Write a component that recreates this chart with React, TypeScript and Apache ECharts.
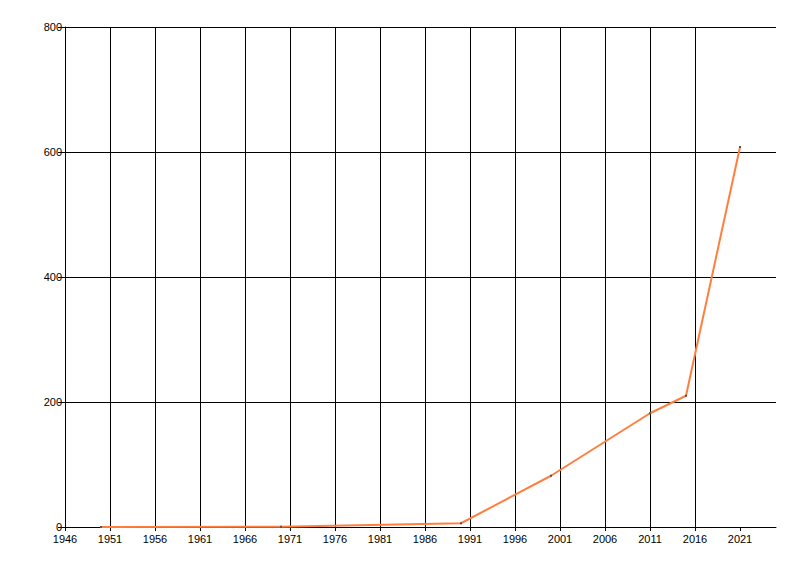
import { useRef, useEffect } from 'react';
import * as echarts from 'echarts';

// values
const years = [1950, 1970, 1990, 2000, 2011, 2015, 2021];
const values = [0, 0.5, 6, 82, 182, 210, 608];
const xTicks = [1946, 1951, 1956, 1961, 1966, 1971, 1976, 1981, 1986, 1991, 1996, 2001, 2006, 2011, 2016, 2021];
const yTicks = [0, 200, 400, 600, 800];

export default function App() {
  const chartRef = useRef<HTMLDivElement>(null);

  useEffect(() => {
    if (!chartRef.current) return;
    const chart = echarts.init(chartRef.current, undefined, { renderer: 'svg' });

    const labelStyle = {
      color: '#000',
      fontFamily: 'Liberation Sans',
      fontSize: 11,
    };

    chart.setOption({
      animation: false,
      grid: { left: 65, right: 24, top: 27, bottom: 49 },
      xAxis: {
        type: 'value',
        min: xTicks[0],
        max: 2025,
        interval: 5,
        axisLine: { show: true, onZero: false, lineStyle: { color: '#000', width: 1 } },
        axisTick: { show: true, length: 4, lineStyle: { color: '#000' }, customValues: xTicks },
        axisLabel: {
          ...labelStyle,
          margin: 6,
          customValues: xTicks,
          formatter: (v: number) => String(v),
        },
        splitLine: { show: true, showMaxLine: false, lineStyle: { color: '#000', width: 1 } },
      },
      yAxis: {
        type: 'value',
        min: yTicks[0],
        max: yTicks[yTicks.length - 1],
        interval: 200,
        axisLine: { show: true, lineStyle: { color: '#000', width: 1 } },
        axisTick: { show: true, length: 7, lineStyle: { color: '#000' } },
        axisLabel: { ...labelStyle, margin: 3 },
        splitLine: { show: true, lineStyle: { color: '#000', width: 1 } },
      },
      series: [
        {
          type: 'line',
          data: years.map((y, i) => [y, values[i]]),
          showSymbol: true,
          symbol: 'rect',
          symbolSize: 2,
          itemStyle: { color: '#555' },
          lineStyle: { color: '#ff7f3f', width: 2 },
        },
      ],
    });

    return () => {
      chart.dispose();
    };
  }, []);

  return (
    <div
      ref={chartRef}
      style={{ position: 'absolute', left: 0, top: 0, width: 800, height: 576, background: '#fff' }}
    />
  );
}
